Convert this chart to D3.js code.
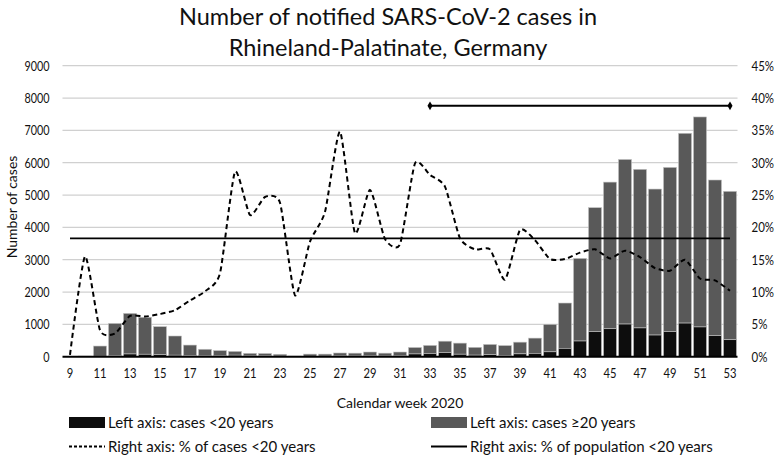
<!DOCTYPE html>
<html>
<head>
<meta charset="utf-8">
<script src="https://cdn.jsdelivr.net/npm/d3@7"></script>
<style>
  body { margin: 0; background: #fff; }
  svg { display: block; font-family: Lato, "Open Sans", sans-serif; }
</style>
</head>
<body>
<svg id="chart" width="777" height="460"></svg>
<script>
// ---- data ----
const weeks = [9,10,11,12,13,14,15,16,17,18,19,20,21,22,23,24,25,26,27,28,29,30,31,32,33,34,35,36,37,38,39,40,41,42,43,44,45,46,47,48,49,50,51,52,53];
const casesTotal = [2,20,330,1030,1340,1220,930,640,360,230,190,165,105,100,75,20,80,80,115,110,145,110,145,285,350,480,420,290,380,345,450,575,1000,1660,3040,4610,5400,6100,5795,5185,5855,6910,7415,5465,5115];
const casesUnder20 = [0,3,14,37,84,76,61,46,31,23,25,47,23,25,18,2,14,18,40,21,37,20,25,85,98,126,77,48,63,41,88,104,151,260,485,775,865,1010,890,670,775,1040,920,650,525];
const pctUnder20 = [0.3,15.5,4.1,3.6,6.3,6.2,6.6,7.2,8.7,10.1,12.9,28.6,21.9,24.7,23.8,9.5,17.8,22.4,34.8,19.1,25.8,18.2,17.4,29.9,28.1,26.3,18.3,16.6,16.6,11.9,19.6,18.0,15.1,15.1,16.1,16.6,15.2,16.4,15.4,13.7,13.3,15.0,12.1,11.8,10.2];
const popUnder20 = 18.3;
const periodMarker = {from: 33, to: 53, value: 38.8};
const leftTicks = [0,1000,2000,3000,4000,5000,6000,7000,8000,9000];
const rightTicks = [0,5,10,15,20,25,30,35,40,45];
const xTickWeeks = [9,11,13,15,17,19,21,23,25,27,29,31,33,35,37,39,41,43,45,47,49,51,53];
const titleLines = ["Number of notified SARS-CoV-2 cases in", "Rhineland-Palatinate, Germany"];
const legendItems = [
  {label: "Left axis: cases <20 years", type: "rect", color: "#0d0d0d"},
  {label: "Left axis: cases \u226520 years", type: "rect", color: "#595959"},
  {label: "Right axis: % of cases <20 years", type: "dash"},
  {label: "Right axis: % of population <20 years", type: "line"}
];

// ---- layout ----
const svg = d3.select("#chart");
const plot = {left: 62.5, right: 737.5, top: 65.7, bottom: 356.7};

const x = d3.scaleBand().domain(weeks).range([plot.left, plot.right]).paddingInner(0.13).paddingOuter(0.065);
const yL = d3.scaleLinear().domain([0, 9000]).range([plot.bottom, plot.top]);
const yR = d3.scaleLinear().domain([0, 45]).range([plot.bottom, plot.top]);
const cx = w => x(w) + x.bandwidth() / 2;

// narrow the axis text horizontally (reference glyphs are tall and narrow)
function squeeze(sel, k) {
  sel.each(function() {
    const t = d3.select(this);
    const xx = +t.attr("x") || 0;
    t.attr("x", 0).attr("transform", `translate(${xx},0) scale(${k},1)`);
  });
}

// title
svg.append("g").selectAll("text").data(titleLines).join("text")
  .attr("x", 388).attr("y", (d, i) => 25 + i * 31)
  .attr("text-anchor", "middle").attr("font-size", 23.5).attr("fill", "#111")
  .text(d => d);

// gridlines
svg.append("g").selectAll("line").data(leftTicks.filter(d => d > 0)).join("line")
  .attr("x1", plot.left).attr("x2", plot.right)
  .attr("y1", d => yL(d)).attr("y2", d => yL(d))
  .attr("stroke", "#d0d0d0").attr("stroke-width", 1.2);

// left axis
const gL = svg.append("g").attr("transform", `translate(${plot.left},0)`)
  .call(d3.axisLeft(yL).tickValues(leftTicks).tickFormat(d3.format("d")).tickSize(0).tickPadding(13));
gL.select(".domain").remove();
gL.selectAll("text").attr("font-size", 13.5).attr("font-family", "Lato").attr("fill", "#111").call(squeeze, 0.8);

// right axis
const gR = svg.append("g").attr("transform", `translate(${plot.right},0)`)
  .call(d3.axisRight(yR).tickValues(rightTicks).tickFormat(d => d + "%").tickSize(0).tickPadding(14));
gR.select(".domain").remove();
gR.selectAll("text").attr("font-size", 14).attr("font-family", "Lato").attr("fill", "#111").call(squeeze, 0.82);

// bars
const barData = weeks.map((w, i) => ({week: w, total: casesTotal[i], young: casesUnder20[i]}));
const bars = svg.append("g");
bars.selectAll("rect.old").data(barData).join("rect").attr("class", "old")
  .attr("x", d => x(d.week)).attr("width", x.bandwidth())
  .attr("y", d => yL(d.total)).attr("height", d => yL(d.young) - yL(d.total))
  .attr("fill", "#595959").attr("stroke", "#c4c4c4").attr("stroke-width", 0.6);
bars.selectAll("rect.young").data(barData).join("rect").attr("class", "young")
  .attr("x", d => x(d.week)).attr("width", x.bandwidth())
  .attr("y", d => yL(d.young)).attr("height", d => yL(0) - yL(d.young))
  .attr("fill", "#0d0d0d").attr("stroke", "#c4c4c4").attr("stroke-width", 0.6);

// baseline
svg.append("line").attr("x1", plot.left).attr("x2", plot.right)
  .attr("y1", yL(0)).attr("y2", yL(0)).attr("stroke", "#000").attr("stroke-width", 2);

// x axis labels
const gX = svg.append("g").attr("transform", `translate(0,${plot.bottom})`)
  .call(d3.axisBottom(x).tickValues(xTickWeeks).tickSize(0).tickPadding(11));
gX.select(".domain").remove();
gX.selectAll("text").attr("font-size", 14).attr("font-family", "Lato").attr("fill", "#111").call(squeeze, 0.8);

// population line
svg.append("line")
  .attr("x1", cx(weeks[0])).attr("x2", cx(weeks[weeks.length - 1]))
  .attr("y1", yR(popUnder20)).attr("y2", yR(popUnder20))
  .attr("stroke", "#000").attr("stroke-width", 1.8);

// dashed pct line
const line = d3.line().x((d, i) => cx(weeks[i])).y(d => yR(d)).curve(d3.curveCardinal.tension(0.4));
svg.append("path").datum(pctUnder20).attr("d", line)
  .attr("fill", "none").attr("stroke", "#000").attr("stroke-width", 2).attr("stroke-dasharray", "5,3.5");

// period marker
svg.append("line")
  .attr("x1", cx(periodMarker.from)).attr("x2", cx(periodMarker.to))
  .attr("y1", yR(periodMarker.value)).attr("y2", yR(periodMarker.value))
  .attr("stroke", "#000").attr("stroke-width", 2);
svg.append("g").selectAll("path").data([periodMarker.from, periodMarker.to]).join("path")
  .attr("transform", d => `translate(${cx(d)},${yR(periodMarker.value)})`)
  .attr("d", d3.symbol(d3.symbolDiamond, 22)).attr("fill", "#000");

// axis titles
svg.append("text").attr("x", 400).attr("y", 408).attr("text-anchor", "middle")
  .attr("font-size", 14).attr("fill", "#111").text("Calendar week 2020");
svg.append("text").attr("transform", "translate(17,207) rotate(-90)").attr("text-anchor", "middle")
  .attr("font-size", 14).attr("fill", "#111").text("Number of cases");

// legend
const legPos = [[69, 428], [431, 428], [69, 452], [431, 452]];
const leg = svg.append("g").selectAll("g").data(legendItems).join("g")
  .attr("transform", (d, i) => `translate(${legPos[i][0]},${legPos[i][1]})`);
leg.filter(d => d.type === "rect").append("rect")
  .attr("x", 0).attr("y", -11).attr("width", 36).attr("height", 11).attr("fill", d => d.color);
leg.filter(d => d.type !== "rect").append("line")
  .attr("x1", 0).attr("x2", 36).attr("y1", -5.5).attr("y2", -5.5)
  .attr("stroke", "#000").attr("stroke-width", 2)
  .attr("stroke-dasharray", d => d.type === "dash" ? "3,2" : null);
leg.append("text").attr("x", 39).attr("y", 0).attr("font-size", 15).attr("fill", "#111").text(d => d.label);
</script>
</body>
</html>
